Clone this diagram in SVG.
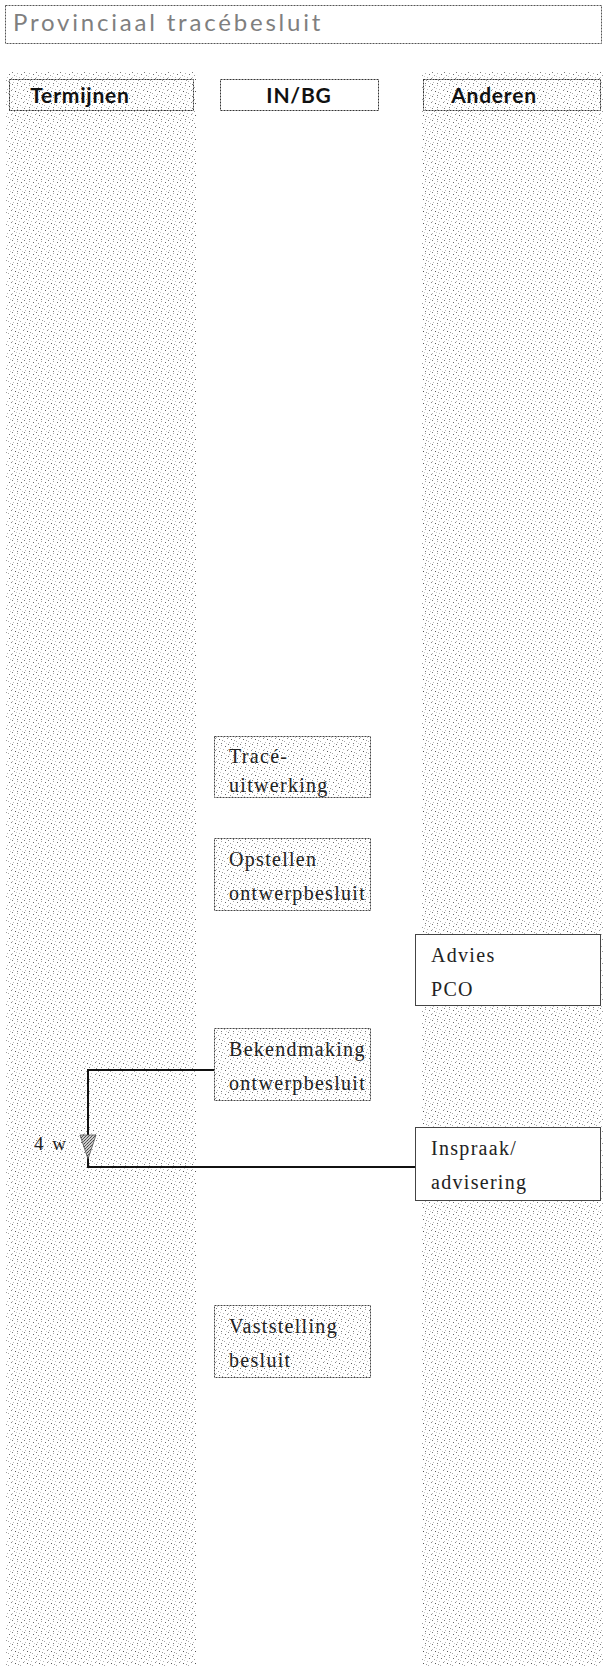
<svg xmlns="http://www.w3.org/2000/svg" width="605" height="1666" viewBox="0 0 605 1666">
<defs>
<pattern id="stip" width="12" height="12" patternUnits="userSpaceOnUse">
<rect width="12" height="12" fill="#fff"/>
<rect x="0" y="0" width="1" height="1" fill="#777"/>
<rect x="5" y="1" width="1" height="1" fill="#aaa"/>
<rect x="9" y="2" width="1" height="1" fill="#666"/>
<rect x="2" y="3" width="1" height="1" fill="#999"/>
<rect x="7" y="5" width="1" height="1" fill="#bbb"/>
<rect x="11" y="6" width="1" height="1" fill="#888"/>
<rect x="3" y="7" width="1" height="1" fill="#555"/>
<rect x="8" y="9" width="1" height="1" fill="#aaa"/>
<rect x="1" y="10" width="1" height="1" fill="#bbb"/>
<rect x="5" y="11" width="1" height="1" fill="#777"/>
<rect x="10" y="11" width="1" height="1" fill="#ccc"/>
<rect x="6" y="8" width="1" height="1" fill="#999"/>
<rect x="0" y="5" width="1" height="1" fill="#bbb"/>
<rect x="4" y="4" width="1" height="1" fill="#ccc"/>
</pattern>
<pattern id="dark" width="3" height="3" patternUnits="userSpaceOnUse">
<rect width="3" height="3" fill="#ccc"/>
<rect x="0" y="0" width="1" height="1" fill="#444"/>
<rect x="2" y="1" width="1" height="1" fill="#666"/>
<rect x="1" y="2" width="1" height="1" fill="#555"/>
</pattern>
</defs>
<style>
.lane{fill:url(#stip)}
.hbox{stroke:#333;stroke-width:1;stroke-dasharray:2 1}
.hbox.s{fill:url(#stip)}
.hbox.w{fill:#fff}
.htxt{font-family:Lato,"Open Sans",sans-serif;font-weight:bold;font-size:21px;fill:#111;text-anchor:middle;letter-spacing:0.8px}
.nbox{fill:url(#stip);stroke:#444;stroke-width:1;stroke-dasharray:2 1}
.abox{fill:#fff;stroke:#444;stroke-width:1}
.ntxt{font-family:"Liberation Serif",serif;font-size:20px;fill:#222;letter-spacing:1.3px}
.conn{fill:none;stroke:#111;stroke-width:2}
</style>
<rect class="lane" x="6" y="72" width="190" height="1594"/>
<rect class="lane" x="422" y="72" width="181" height="1594"/>
<g id="title">
<rect x="5.5" y="5.5" width="596" height="38" fill="#fff" stroke="#555" stroke-width="1" stroke-dasharray="2 1"/>
<text x="13" y="31" font-family="Lato,'Open Sans',sans-serif" font-size="24" fill="#7f7f7f" letter-spacing="2.8">Provinciaal tracébesluit</text>
</g>
<g id="h-termijnen">
<rect class="hbox s" x="9.5" y="79.5" width="184" height="31"/>
<text class="htxt" x="80" y="103">Termijnen</text>
</g>
<g id="h-inbg">
<rect class="hbox w" x="220.5" y="79.5" width="158" height="31"/>
<text class="htxt" x="299" y="103">IN/BG</text>
</g>
<g id="h-anderen">
<rect class="hbox s" x="423.5" y="79.5" width="177" height="31"/>
<text class="htxt" x="494" y="103">Anderen</text>
</g>
<g id="n-trace">
<rect class="nbox" x="214.5" y="736.5" width="156" height="61"/>
<text class="ntxt" x="229" y="763">Tracé-</text>
<text class="ntxt" x="229" y="792">uitwerking</text>
</g>
<g id="n-opstellen">
<rect class="nbox" x="214.5" y="838.5" width="156" height="72"/>
<text class="ntxt" x="229" y="866">Opstellen</text>
<text class="ntxt" x="229" y="900">ontwerpbesluit</text>
</g>
<g id="n-advies">
<rect class="abox" x="415.5" y="934.5" width="185" height="71"/>
<text class="ntxt" x="431" y="962">Advies</text>
<text class="ntxt" x="431" y="996">PCO</text>
</g>
<g id="n-bekend">
<rect class="nbox" x="214.5" y="1028.5" width="156" height="72"/>
<text class="ntxt" x="229" y="1056">Bekendmaking</text>
<text class="ntxt" x="229" y="1090">ontwerpbesluit</text>
</g>
<g id="n-inspraak">
<rect class="abox" x="415.5" y="1127.5" width="185" height="73"/>
<text class="ntxt" x="431" y="1155">Inspraak/</text>
<text class="ntxt" x="431" y="1189">advisering</text>
</g>
<g id="n-vaststelling">
<rect class="nbox" x="214.5" y="1305.5" width="156" height="72"/>
<text class="ntxt" x="229" y="1333">Vaststelling</text>
<text class="ntxt" x="229" y="1367">besluit</text>
</g>
<g id="connectors">
<polyline class="conn" points="214,1070 88,1070 88,1167"/>
<polyline class="conn" points="415,1167 87,1167"/>
<polygon points="80,1135 96,1135 88,1159" fill="url(#dark)" stroke="#555" stroke-width="0.8"/>
<text x="34" y="1150" font-family="'Liberation Serif',serif" font-size="19" fill="#222" word-spacing="4">4 w</text>
</g>
</svg>
